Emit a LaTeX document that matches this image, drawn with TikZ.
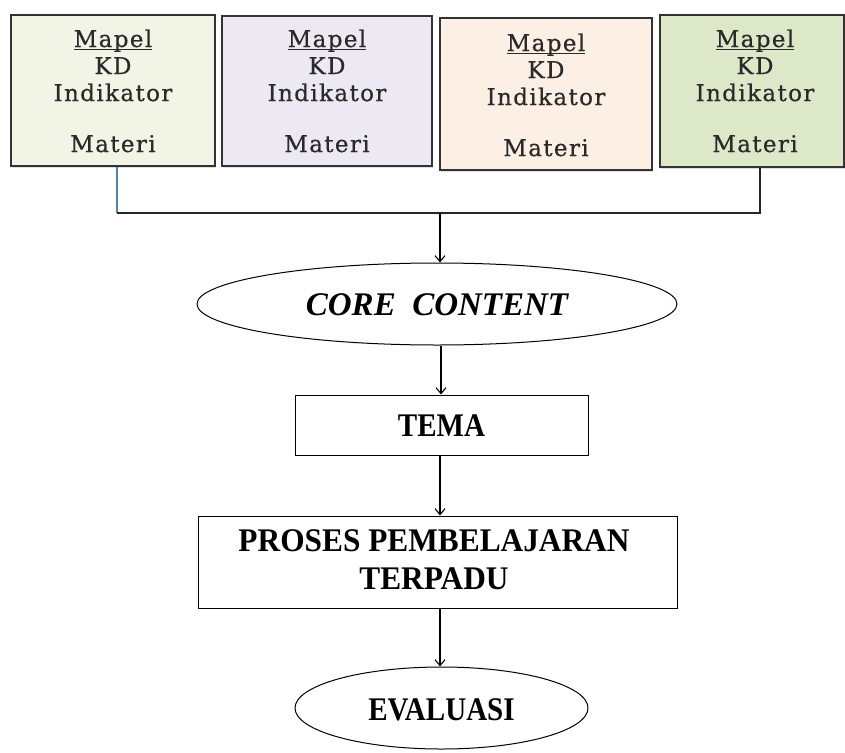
\documentclass[tikz,border=0pt]{standalone}
\usepackage{fontspec}
\setmainfont{Liberation Serif}
\newfontfamily\slabfont[LetterSpace=6,FakeBold=0.6]{DejaVu Serif}
\newfontfamily\condfont[FakeStretch=0.88]{Liberation Serif}
\newfontfamily\widefont[FakeStretch=0.95]{Liberation Serif}
\newcommand\myul[1]{\setbox0\hbox{#1}\rlap{\rule[-3pt]{\wd0}{1.2pt}}\box0}
\usetikzlibrary{arrows.meta,shapes.geometric,shadows}
\definecolor{fillA}{HTML}{F2F5E6}
\definecolor{fillB}{HTML}{EDE9F2}
\definecolor{fillC}{HTML}{FCEFE3}
\definecolor{fillD}{HTML}{DCE8C8}
\definecolor{boxtext}{HTML}{2A2A2A}
\definecolor{linkblue}{HTML}{4F81BD}
\tikzset{
  topbox/.style={draw=black!80, line width=1.2pt, rectangle, inner sep=0pt,
    drop shadow={opacity=0.25, shadow xshift=1pt, shadow yshift=-2pt}},
  toptext/.style={align=center, text=boxtext, font=\slabfont\fontsize{23}{27}\selectfont},
  flowbox/.style={draw=black, line width=1pt, rectangle, inner sep=0pt},
  flowell/.style={draw=black, line width=1pt, ellipse, inner sep=0pt},
  bigtext/.style={font=\condfont\bfseries\fontsize{33}{38}\selectfont, align=center},
  arr/.style={draw=black, line width=1.1pt, -{Straight Barb[length=6pt,width=10pt,line width=1.1pt]}},
  link/.style={draw=black!85, line width=1.2pt}
}
\begin{document}
\begin{tikzpicture}[x=1pt,y=-1pt]
\useasboundingbox (0,0) rectangle (845,752);
% top boxes
\node[topbox, fill=fillA, minimum width=204pt, minimum height=151pt] (b1) at (113,90.5) {};
\node[topbox, fill=fillB, minimum width=210pt, minimum height=150pt] (b2) at (327,91) {};
\node[topbox, fill=fillC, minimum width=212pt, minimum height=152pt] (b3) at (546,94) {};
\node[topbox, fill=fillD, minimum width=184pt, minimum height=152pt] (b4) at (752,91) {};
\node[toptext, anchor=north] (t1) at (113,26) {\myul{Mapel}\\KD\\Indikator\\[24pt]Materi};
\node[toptext, anchor=north] (t2) at (327,26) {\myul{Mapel}\\KD\\Indikator\\[24pt]Materi};
\node[toptext, anchor=north] (t3) at (546,30) {\myul{Mapel}\\KD\\Indikator\\[24pt]Materi};
\node[toptext, anchor=north] (t4) at (755,26) {\myul{Mapel}\\KD\\Indikator\\[24pt]Materi};
% junction
\coordinate (jl) at (117,213);
\coordinate (jr) at (760,213);
\coordinate (jm) at (440,213);
\coordinate (axa) at (441,0);
\coordinate (axb) at (440,0);
% flow nodes
\node[flowell, minimum width=480pt, minimum height=82pt] (core) at (437,304) {};
\node[font=\setmainfont{Liberation Serif}\bfseries\itshape\fontsize{33}{38}\selectfont] (coretext) at (437,305) {CORE\ \ CONTENT};
\node[flowbox, minimum width=293pt, minimum height=60pt] (tema) at (441.5,425) {};
\node[bigtext] (tematext) at (441.5,426) {TEMA};
\node[flowbox, minimum width=479pt, minimum height=92pt] (proses) at (437.5,562) {};
\node[font=\widefont\bfseries\fontsize{33}{38}\selectfont, align=center] (prosestext) at (434,560) {PROSES PEMBELAJARAN\\TERPADU};
\node[flowell, minimum width=293pt, minimum height=82pt] (eval) at (441.5,708) {};
\node[bigtext] (evaltext) at (441.5,710) {EVALUASI};
% connectors
\draw[draw=linkblue, line width=1.2pt] (jl |- b1.south) -- (jl);
\draw[link] (jl) -- (jr) -- (jr |- b4.south);
\draw[arr] (jm) -- (jm |- core.north);
\draw[arr] (core.south -| axa) -- (tema.north -| axa);
\draw[arr] (tema.south -| axb) -- (proses.north -| axb);
\draw[arr] (proses.south -| axb) -- (eval.north -| axb);
\end{tikzpicture}
\end{document}
